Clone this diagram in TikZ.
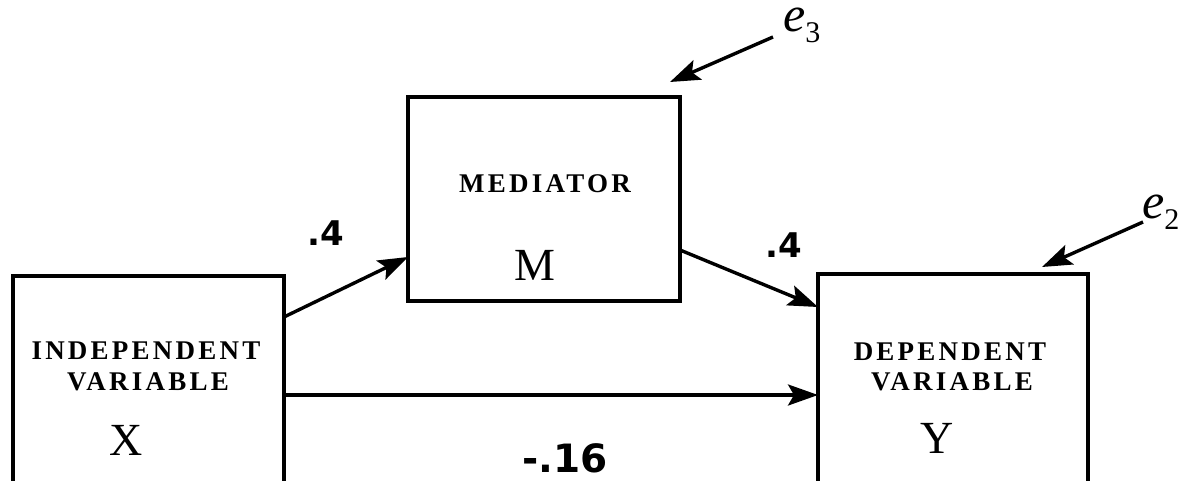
\documentclass[tikz,border=0pt]{standalone}
\usepackage{fontspec}
\newfontfamily\capsfont[LetterSpace=12]{Liberation Serif}
\newfontfamily\tnrfont{Liberation Serif}
\newfontfamily\labfont{DejaVu Sans}
\usetikzlibrary{arrows.meta}
\begin{document}
\begin{tikzpicture}[x=1pt,y=-1pt,
  varbox/.style={draw, line width=4pt, inner sep=0pt, outer sep=0pt, anchor=north west},
  caps/.style={font=\capsfont\bfseries\fontsize{27}{30}\selectfont, anchor=base, inner sep=0pt},
  letter/.style={font=\tnrfont\fontsize{46}{50}\selectfont, anchor=base, inner sep=0pt},
  coef/.style={font=\labfont\bfseries\fontsize{34}{40}\selectfont, anchor=base, inner sep=0pt},
  elab/.style={font=\tnrfont\fontsize{50}{52}\selectfont, anchor=base west, inner sep=0pt},
  arr/.style={line width=3.4pt, -{Stealth[length=30pt,width=21pt,inset=6pt]}}]
\useasboundingbox (0,0) rectangle (1190,481);
\clip (0,0) rectangle (1190,481);
% boxes
\node[varbox, minimum width=271pt, minimum height=230pt] (X) at (13,276) {};
\node[varbox, minimum width=272pt, minimum height=204pt] (M) at (408,97) {};
\node[varbox, minimum width=270pt, minimum height=230pt] (Y) at (818,274) {};
% texts
\node[caps] (xt1) at (146,359) {INDEPENDENT};
\node[caps] (xt2) at (148,390) {VARIABLE};
\node[letter] (xt3) at (126,455) {X};
\node[caps] (mt1) at (545,193) {MEDIATOR};
\node[letter] (mt2) at (535,280) {M};
\node[caps] (yt1) at (950,360) {DEPENDENT};
\node[caps] (yt2) at (952,390) {VARIABLE};
\node[letter] (yt3) at (937,453) {Y};
% coefficients
\node[coef] (c1) at (326,245) {.4};
\node[coef] (c2) at (784,257) {.4};
\node[coef, font=\labfont\bfseries\fontsize{39}{44}\selectfont] (c3) at (565,472) {-.16};
% paths
\draw[arr] ([shift={(0,41)}]X.north east) -- ([shift={(0,160)}]M.north west);
\draw[arr] ([shift={(0,153)}]M.north east) -- ([shift={(0,33)}]Y.north west);
\draw[arr] ([shift={(0,119)}]X.north east) -- ([shift={(0,121)}]Y.north west);
% error terms
\node[elab] (e3) at (783,32) {\itshape e\raisebox{-11pt}{\upshape\fontsize{30}{32}\selectfont 3}};
\node[elab] (e2) at (1142,218) {\itshape e\raisebox{-11pt}{\upshape\fontsize{30}{32}\selectfont 2}};
\coordinate (e3s) at (773,37);
\coordinate (e3t) at (670,82);
\coordinate (e2s) at (1143,222);
\coordinate (e2t) at (1042,267);
\draw[arr] (e3s) -- (e3t);
\draw[arr] (e2s) -- (e2t);
\end{tikzpicture}
\end{document}
